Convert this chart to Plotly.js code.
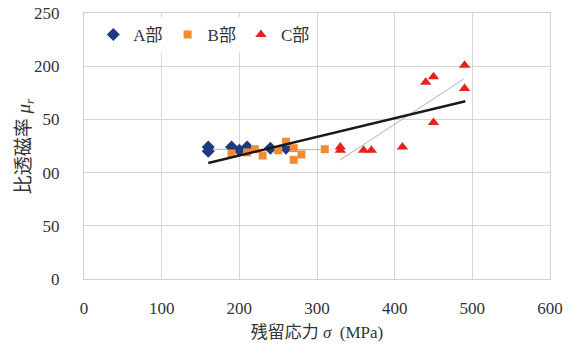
<!DOCTYPE html>
<html><head><meta charset="utf-8">
<script src="https://cdn.plot.ly/plotly-3.0.1.min.js"></script>
<style>html,body{margin:0;padding:0;background:#fff}#c{width:569px;height:353px}</style>
</head><body><div id="c"></div>
<script>
const aX = [160,160,190,200,210,210,240,260];
const aY = [124,120,124,121,124,122,123,123];
const bX = [190,210,220,230,250,260,270,270,280,310];
const bY = [118,119,122,116,121,129,123,112,117,122];
const cX = [330,330,360,370,410,440,450,450,490,490];
const cY = [124,121,121,121,124,185,190,147,179,201];
// trend lines (endpoints)
const abTrendX = [160,310];
const abTrendY = [122,121.5];
const cTrendX = [330,489];
const cTrendY = [112,188];
const allTrendX = [160,491];
const allTrendY = [109,167];
const names = ['A部','B部','C部'];
const xTicks = [0,100,200,300,400,500,600];
const yTicks = [0,50,100,150,200,250];

const serif = 'Liberation Serif, Noto Sans CJK JP, serif';
const traces = [
  {x:abTrendX,y:abTrendY,mode:'lines',line:{color:'#b0b0b0',width:1},showlegend:false,hoverinfo:'skip'},
  {x:cTrendX,y:cTrendY,mode:'lines',line:{color:'#b0b0b0',width:1},showlegend:false,hoverinfo:'skip'},
  {x:aX,y:aY,mode:'markers',name:names[0],marker:{symbol:'diamond',size:10,color:'#1d3a82'}},
  {x:bX,y:bY,mode:'markers',name:names[1],marker:{symbol:'square',size:8,color:'#f28c33'}},
  {x:cX,y:cY,mode:'markers',name:names[2],marker:{symbol:'triangle-up',size:10,color:'#e3241b'}},
  {x:allTrendX,y:allTrendY,mode:'lines',line:{color:'#1a1a1a',width:2.5},showlegend:false,hoverinfo:'skip'}
];
const layout = {
  width:569,height:353,
  margin:{l:84,r:19,t:13,b:74},
  paper_bgcolor:'#fff',plot_bgcolor:'#fff',
  font:{family:serif,size:17,color:'#333'},
  showlegend:true,
  legend:{orientation:'h',x:0.02,y:0.985,xanchor:'left',yanchor:'top',
    bgcolor:'#fff',font:{family:serif,size:17,color:'#333'},itemwidth:30,tracegroupgap:0},
  xaxis:{range:[0,600],tickvals:xTicks,ticktext:xTicks.map(String),
    showgrid:true,gridcolor:'#d6d6d6',gridwidth:1,zeroline:false,
    showline:true,mirror:true,linecolor:'#d0d0d0',linewidth:1,
    ticks:'',ticklabelstandoff:14,tickfont:{family:serif,size:17,color:'#333'},
    title:{text:'残留応力 <i>σ</i>  (MPa)',font:{family:serif,size:17,color:'#333'},standoff:8}},
  yaxis:{range:[0,250],tickvals:yTicks,ticktext:yTicks.map(String),
    showgrid:true,gridcolor:'#d6d6d6',gridwidth:1,zeroline:false,
    showline:true,mirror:true,linecolor:'#d0d0d0',linewidth:1,
    ticks:'',ticklabelstandoff:20,tickfont:{family:serif,size:17,color:'#333'}},
  annotations:[{
    text:'比透磁率 <i>μ<sub>r</sub></i>',textangle:-90,
    xref:'paper',yref:'paper',x:-0.126,y:0.5,xanchor:'center',yanchor:'middle',
    showarrow:false,bgcolor:'#fff',borderpad:4,
    font:{family:serif,size:19,color:'#333'}
  }]
};
Plotly.newPlot('c',traces,layout,{displayModeBar:false,staticPlot:true});
</script></body></html>
